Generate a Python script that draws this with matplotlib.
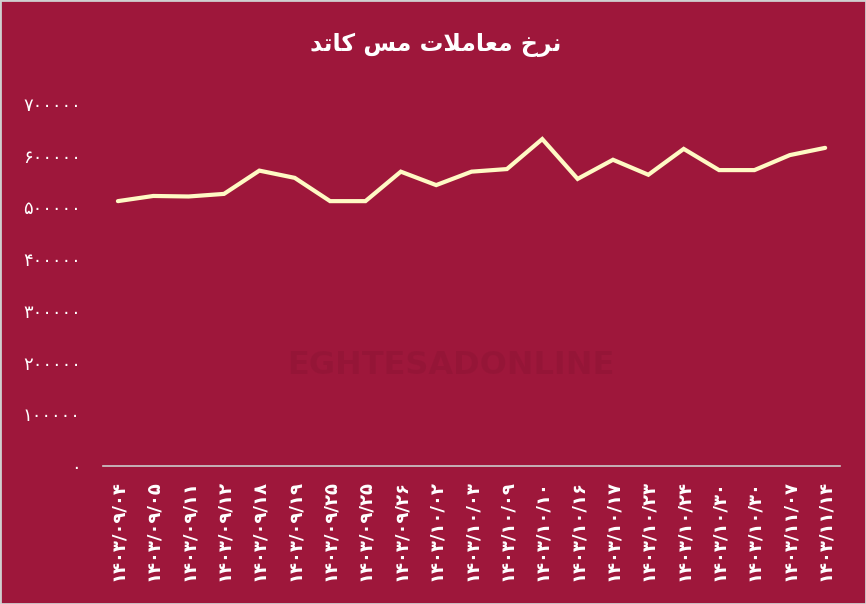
# Copper cathode trading rate chart (Persian labels)
import matplotlib
matplotlib.use("Agg")
import matplotlib.pyplot as plt
from matplotlib.patches import Rectangle

# ---------------- DATA ----------------
dates = ["۱۴۰۳/۰۹/۰۴", "۱۴۰۳/۰۹/۰۵", "۱۴۰۳/۰۹/۱۱", "۱۴۰۳/۰۹/۱۲", "۱۴۰۳/۰۹/۱۸",
         "۱۴۰۳/۰۹/۱۹", "۱۴۰۳/۰۹/۲۵", "۱۴۰۳/۰۹/۲۵", "۱۴۰۳/۰۹/۲۶", "۱۴۰۳/۱۰/۰۲",
         "۱۴۰۳/۱۰/۰۳", "۱۴۰۳/۱۰/۰۹", "۱۴۰۳/۱۰/۱۰", "۱۴۰۳/۱۰/۱۶", "۱۴۰۳/۱۰/۱۷",
         "۱۴۰۳/۱۰/۲۳", "۱۴۰۳/۱۰/۲۴", "۱۴۰۳/۱۰/۳۰", "۱۴۰۳/۱۰/۳۰", "۱۴۰۳/۱۱/۰۷",
         "۱۴۰۳/۱۱/۱۴"]
prices = [512000, 522000, 521000, 526000, 571000, 557000, 512000, 512000, 569000, 543000,
          569000, 574000, 632000, 555000, 592000, 563000, 613000, 572000, 572000, 601000,
          615000]
y_ticks = [0, 100000, 200000, 300000, 400000, 500000, 600000, 700000]
y_labels = ["۰", "۱۰۰۰۰۰", "۲۰۰۰۰۰", "۳۰۰۰۰۰", "۴۰۰۰۰۰", "۵۰۰۰۰۰", "۶۰۰۰۰۰", "۷۰۰۰۰۰"]

# title "نرخ معاملات مس کاتد", pre-shaped (presentation forms, visual order)
title = ("\uFEAA\uFE97\uFE8E\uFB90" + " " + "\uFEB2\uFEE3" + " "
         + "\uFE95\uFEFC\uFEE3\uFE8E\uFECC\uFEE3" + " " + "\uFEA5\uFEAE\uFEE7")
# --------------------------------------

bg = "#9E173B"
line_c = "#FFF9C4"

fig = plt.figure(figsize=(8.66, 6.04), dpi=100, facecolor=bg)
ax = fig.add_axes([0.119, 0.2285, 0.851, 0.5995])
ax.set_facecolor(bg)

# faint watermark
fig.text(0.52, 0.395, "EGHTESADONLINE", color="#000000", alpha=0.05,
         fontsize=23, fontweight="bold", ha="center", va="center")

x = list(range(len(prices)))
ax.plot(x, prices, color=line_c, lw=3.0, solid_capstyle="round", solid_joinstyle="miter", zorder=3)

ax.set_xlim(-0.42, len(prices) - 1 + 0.42)
ax.set_ylim(0, 700000)
ax.set_yticks(y_ticks)
ax.set_yticklabels(y_labels, color="white", fontsize=13)
ax.set_xticks(x)
ax.set_xticklabels(dates, rotation=90, color="white", fontsize=13, fontweight="bold")
ax.tick_params(length=0)
ax.tick_params(axis="y", pad=16)
ax.tick_params(axis="x", pad=10)

for s in ["top", "right", "left"]:
    ax.spines[s].set_visible(False)
ax.spines["bottom"].set_color("#cccccc")
ax.spines["bottom"].set_linewidth(1.2)

fig.text(0.503, 0.925, title, color="white", fontsize=17, fontweight="bold",
         ha="center", va="center")

fig.patches.append(Rectangle((0, 0), 1, 1, transform=fig.transFigure, fill=False,
                             edgecolor="#d0d0d0", lw=2))

fig.savefig("out.png", dpi=100, facecolor=bg)
